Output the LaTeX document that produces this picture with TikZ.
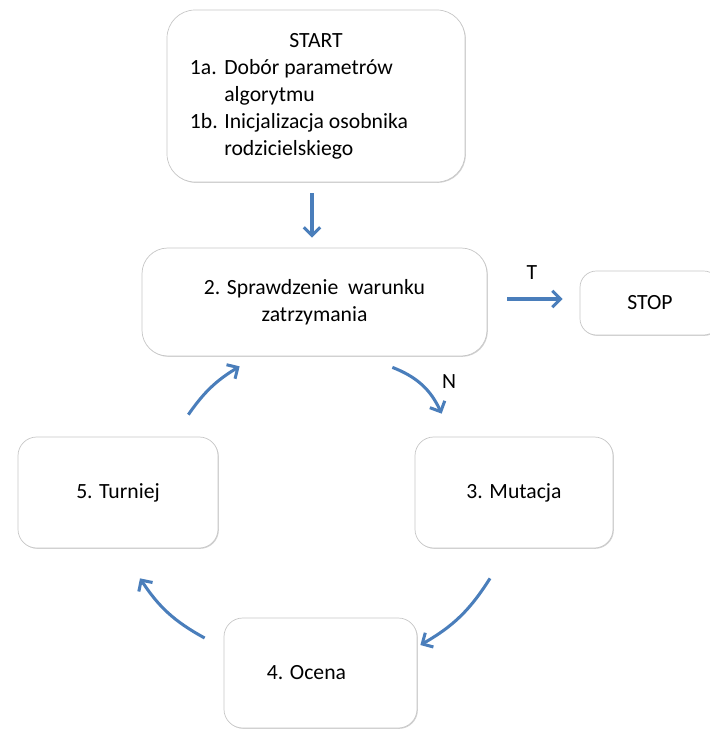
\documentclass[tikz,border=0pt]{standalone}
\usepackage{fontspec}
\setmainfont{Carlito}
\usetikzlibrary{arrows.meta,shadows}

\definecolor{flowblue}{HTML}{4A7EBB}

\tikzset{
	box/.style={draw=black!22, line width=0.6pt, fill=white, rounded corners=#1,
		drop shadow={shadow xshift=0.7pt, shadow yshift=-0.7pt, opacity=0.3, fill=black!60},
		inner sep=0pt, font=\fontsize{18.5}{23}\selectfont},
	box/.default=16pt,
	flow/.style={flowblue, line width=2.6pt, -{Straight Barb[length=7pt,width=14pt]}},
	lab/.style={font=\fontsize{18.5}{23}\selectfont},
}

\begin{document}
\begin{tikzpicture}[x=0.03cm,y=0.03cm]
	\useasboundingbox (0,-730) rectangle (710,0);

	\node[box=24pt, minimum width=8.94cm, minimum height=5.16cm] (start) at (316,-96)
		{\begin{tabular}{@{}l@{ }l@{}}
			\multicolumn{2}{c}{\hspace*{1.02cm}START}\\
			1a. & Dobór parametrów\\
			    & algorytmu\\
			1b. & Inicjalizacja osobnika\\
			    & rodzicielskiego
		\end{tabular}\hspace*{1.02cm}};
	\node[box=22pt, minimum width=10.35cm, minimum height=3.24cm, align=center] (check) at (314.5,-302)
		{2. Sprawdzenie\ \ warunku\\zatrzymania};
	\node[box=14pt, minimum width=4.2cm, minimum height=1.92cm] (stop) at (650,-303) {STOP};
	\node[box, minimum width=6cm, minimum height=3.33cm] (turniej) at (118,-492.5) {5. Turniej};
	\node[box, minimum width=5.94cm, minimum height=3.33cm] (mutacja) at (514,-492.5) {3. Mutacja};
	\node[box, minimum width=5.79cm, minimum height=3.3cm] (ocena) at (320.5,-673) {4. Ocena\hspace*{0.84cm}};

	\draw[flow] ([shift={(-4,-11)}]start.south) -- ([shift={(-2.5,10)}]check.north);
	\draw[flow] ([shift={(20,3)}]check.east) -- ([shift={(-17,4)}]stop.west);
	\draw[flow] ([shift={(-95,-11)}]check.south east) to[bend left=22] ([shift={(27,23)}]mutacja.north west);
	\draw[flow] ([shift={(-24,-30)}]mutacja.south) to[bend left=14] ([shift={(3,28)}]ocena.east);
	\draw[flow] ([shift={(-19,35)}]ocena.west) to[bend left=14] ([shift={(22,-30)}]turniej.south);
	\draw[flow] ([shift={(-30,22)}]turniej.north east) to[bend left=12] ([shift={(98,-10)}]check.south west);

	\node[lab] (tlab) at (532,-273) {T};
	\node[lab] (nlab) at (449,-382) {N};
\end{tikzpicture}
\end{document}
